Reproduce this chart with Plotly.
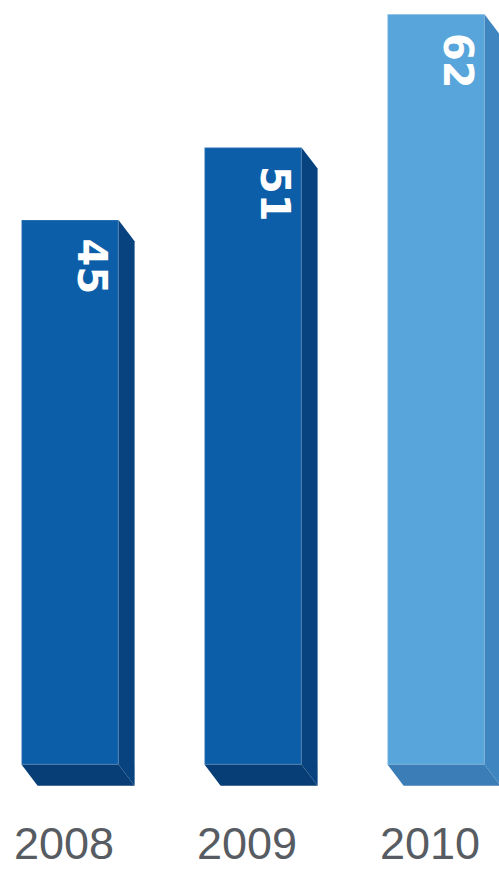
import plotly.graph_objects as go

years = ["2008", "2009", "2010"]
values = [45, 51, 62]
front_colors = ["#0d5ea9", "#0d5ea9", "#57a5da"]
side_colors = ["#08437f", "#08437f", "#3f86c0"]
bottom_colors = ["#073e76", "#073e76", "#3b7db6"]

W, H = 499, 870
bar_w = 0.53
dx = 0.088      # depth offset in x units
dy = 1.75       # depth offset in y units (downwards)

fig = go.Figure()

xs = list(range(len(years)))

# side and bottom faces computed from the data
for i, v in enumerate(values):
    x0 = i - bar_w / 2
    x1 = i + bar_w / 2
    fig.add_trace(go.Scatter(
        x=[x1, x1 + dx, x1 + dx, x1, x1],
        y=[v, v - dy, -dy, 0, v],
        fill="toself", mode="lines", line=dict(width=0),
        fillcolor=side_colors[i], hoverinfo="skip", showlegend=False))
    fig.add_trace(go.Scatter(
        x=[x0, x1, x1 + dx, x0 + dx, x0],
        y=[0, 0, -dy, -dy, 0],
        fill="toself", mode="lines", line=dict(width=0),
        fillcolor=bottom_colors[i], hoverinfo="skip", showlegend=False))

fig.add_trace(go.Bar(
    x=xs, y=values, width=bar_w, base=0,
    marker=dict(color=front_colors, line=dict(width=1.5, color="rgba(255,255,255,0.15)")),
    hoverinfo="skip", showlegend=False))

for i, v in enumerate(values):
    fig.add_annotation(
        x=i + 0.12, y=v - 3.85, xref="x", yref="y",
        text=str(v), textangle=90, showarrow=False,
        font=dict(family="DejaVu Sans", size=40, color="white", weight="bold"),
        xanchor="center", yanchor="middle")
    fig.add_annotation(
        x=i - 0.035, y=-6.5, xref="x", yref="y",
        text=years[i], showarrow=False,
        font=dict(family="Liberation Sans", size=45, color="#575c62"),
        xanchor="center", yanchor="middle")

px_per_unit = 12.1
base_px = 764.5
center0 = 70
unit_px = 183

fig.update_layout(
    width=W, height=H,
    margin=dict(l=0, r=0, t=0, b=0),
    paper_bgcolor="white", plot_bgcolor="white",
    xaxis=dict(range=[-center0 / unit_px, (W - center0) / unit_px], visible=False, fixedrange=True),
    yaxis=dict(range=[-(H - base_px) / px_per_unit, base_px / px_per_unit], visible=False, fixedrange=True),
    hovermode=False,
)

fig.write_html("out.html", config={"displayModeBar": False},
               post_script="document.body.style.margin='0px';document.body.style.overflow='hidden';")
